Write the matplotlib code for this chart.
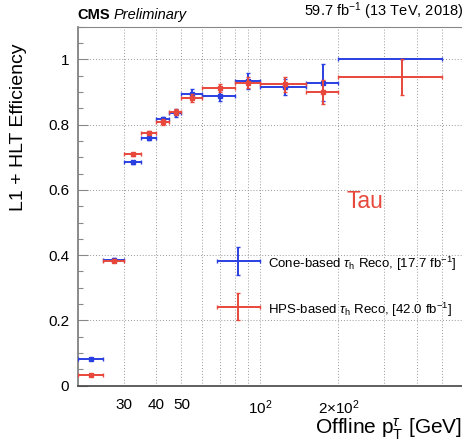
import numpy as np
import matplotlib
matplotlib.use("Agg")
import matplotlib.pyplot as plt
from matplotlib.ticker import FixedLocator, NullFormatter, MultipleLocator
from matplotlib.legend_handler import HandlerErrorbar

plt.rcParams["font.family"] = ["Liberation Sans", "DejaVu Sans"]
plt.rcParams["mathtext.fontset"] = "custom"
plt.rcParams["mathtext.rm"] = "Liberation Sans"
plt.rcParams["mathtext.it"] = "Liberation Sans:italic"

# offline tau pT bins [GeV]
bin_lo = np.array([20, 25, 30, 35, 40, 45, 50, 60, 80, 100, 150, 200])
bin_hi = np.array([25, 30, 35, 40, 45, 50, 60, 80, 100, 150, 200, 500])

# cone-based tau reconstruction
eff_cone = np.array([0.083, 0.385, 0.684, 0.758, 0.816, 0.836, 0.894, 0.889,
                     0.933, 0.915, 0.929, 1.000])
err_cone = np.array([0.003, 0.005, 0.005, 0.006, 0.008, 0.012, 0.015, 0.016,
                     0.024, 0.025, 0.058, 0.000])

# HPS-based tau reconstruction
eff_hps = np.array([0.034, 0.383, 0.709, 0.775, 0.808, 0.838, 0.881, 0.911,
                    0.928, 0.923, 0.900, 0.945])
err_hps = np.array([0.002, 0.004, 0.004, 0.005, 0.008, 0.010, 0.012, 0.012,
                    0.017, 0.023, 0.038, 0.055])

x_cen = 0.5 * (bin_lo + bin_hi)
x_err = [x_cen - bin_lo, bin_hi - x_cen]

blue = "#2a3fe0"
red = "#e8483c"

fig = plt.figure(figsize=(4.62, 4.41), dpi=100)
ax = fig.add_axes([0.168, 0.1254, 0.836, 0.814])

h_cone = ax.errorbar(x_cen, eff_cone, yerr=err_cone, xerr=x_err, fmt="none",
                     ecolor=blue, elinewidth=1.4, capsize=1.5, capthick=1.0,
                     zorder=3,
                     label=r"Cone-based $\tau_{\mathrm{h}}$ Reco, [17.7 fb$^{\mathrm{-1}}$]")
ax.plot(x_cen[:-1], eff_cone[:-1], "s", ms=2.5, color=blue, zorder=3)
h_hps = ax.errorbar(x_cen, eff_hps, yerr=err_hps, xerr=x_err, fmt="none",
                    ecolor=red, elinewidth=1.4, capsize=1.5, capthick=1.0,
                    zorder=4,
                    label=r"HPS-based $\tau_{\mathrm{h}}$ Reco, [42.0 fb$^{\mathrm{-1}}$]")
ax.plot(x_cen[:-1], eff_hps[:-1], "s", ms=2.5, color=red, zorder=4)

ax.set_xscale("log")
ax.set_xlim(20, 605)
ax.set_ylim(0, 1.1)

ax.xaxis.set_major_locator(FixedLocator([30, 40, 50, 100, 200]))
ax.xaxis.set_minor_locator(FixedLocator([60, 70, 80, 90, 300, 400, 500]))
ax.set_xticklabels(["30", "40", "50", r"$10^{2}$", r"$2{\times}10^{2}$"])
ax.xaxis.set_minor_formatter(NullFormatter())
ax.yaxis.set_minor_locator(MultipleLocator(0.05))
ax.set_yticks([0, 0.2, 0.4, 0.6, 0.8, 1.0])
ax.set_yticklabels(["0", "0.2", "0.4", "0.6", "0.8", "1"])

ax.tick_params(axis="x", which="both", length=0, labelsize=11, pad=9)
ax.tick_params(axis="y", which="major", direction="in", length=7,
               width=0.8, color="#888888", labelsize=11, pad=6)
ax.tick_params(axis="y", which="minor", direction="in", length=3.5,
               width=0.8, color="#888888")

ax.grid(True, which="both", axis="x", linestyle=(0, (1, 2)), color="#999999", lw=0.7)
ax.grid(True, which="major", axis="y", linestyle=(0, (1, 2)), color="#999999", lw=0.7)

for side in ["top", "right"]:
    ax.spines[side].set_color("#888888")
    ax.spines[side].set_linewidth(0.8)
ax.spines["left"].set_color("#777777")
ax.spines["left"].set_linewidth(1.2)
ax.spines["bottom"].set_color("#444444")
ax.spines["bottom"].set_linewidth(1.2)

ax.set_ylabel("L1 + HLT Efficiency", fontsize=14)
ax.yaxis.set_label_coords(-0.13, 0.72)
ax.set_xlabel(r"Offline p$_{\mathrm{T}}^{\tau}$ [GeV]", fontsize=15, labelpad=0)
ax.xaxis.set_label_coords(0.995, -0.085)
ax.xaxis.label.set_horizontalalignment("right")

ax.text(0.0, 1.012, "CMS", transform=ax.transAxes, fontsize=10.5,
        fontweight="bold", ha="left", va="bottom")
ax.text(0.093, 1.012, "Preliminary", transform=ax.transAxes, fontsize=10.5,
        fontstyle="italic", ha="left", va="bottom")
ax.text(0.998, 1.012, r"59.7 fb$^{\mathrm{-1}}$ (13 TeV, 2018)",
        transform=ax.transAxes, fontsize=10.5, ha="right", va="bottom")

ax.text(0.695, 0.496, "Tau", transform=ax.transAxes, color=red, fontsize=16.5,
        ha="left", va="baseline")

hmap = {h_cone: HandlerErrorbar(xerr_size=1.63, yerr_size=1.05),
        h_hps: HandlerErrorbar(xerr_size=1.63, yerr_size=1.05)}
leg = ax.legend(handles=[h_cone, h_hps], loc="upper left",
                bbox_to_anchor=(0.33, 0.40), frameon=False, fontsize=9.5,
                handlelength=3.26, handleheight=2.0, labelspacing=1.9,
                handletextpad=0.6, handler_map=hmap)

fig.savefig("out.png", dpi=100)
